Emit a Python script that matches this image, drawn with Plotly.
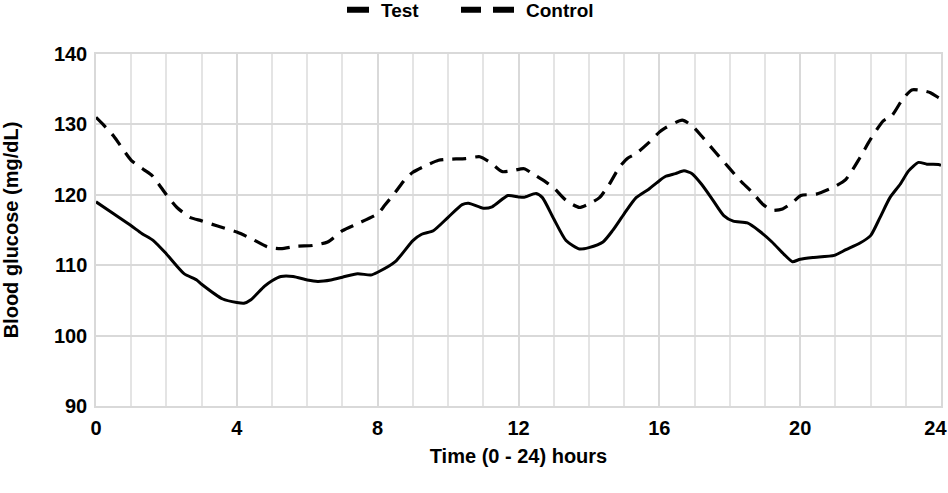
import plotly.graph_objects as go

# Test (solid) series: hour, blood glucose (mg/dL)
test_hours = [0, 0.5, 1, 1.3, 1.63, 2, 2.5, 2.86, 3, 3.6, 4, 4.2, 4.4, 4.78, 5, 5.25, 5.6, 6, 6.3, 6.67,
              7, 7.43, 7.8, 8, 8.5, 9, 9.25, 9.58, 10, 10.4, 10.58, 11, 11.25, 11.7, 12, 12.16, 12.5, 12.68,
              13, 13.35, 13.73, 14, 14.4, 14.67, 15, 15.34, 15.7, 16, 16.17, 16.46, 16.7, 16.93, 17.2, 17.5,
              17.83, 18.1, 18.5, 18.83, 19.2, 19.54, 19.78, 20.0, 20.36, 20.97, 21.3, 21.7, 22, 22.27, 22.55,
              22.84, 23.08, 23.36, 23.6, 23.93, 24]
test_values = [119.0, 117.3, 115.6, 114.5, 113.5, 111.6, 108.8, 107.9, 107.3, 105.2, 104.7, 104.6, 105.1,
               107.0, 107.8, 108.4, 108.4, 107.9, 107.7, 107.9, 108.3, 108.8, 108.6, 109.0, 110.5, 113.5,
               114.4, 114.9, 116.8, 118.6, 118.8, 118.1, 118.3, 119.9, 119.7, 119.65, 120.2, 119.6, 116.6,
               113.5, 112.3, 112.5, 113.3, 114.9, 117.3, 119.6, 120.8, 122.0, 122.6, 123.0, 123.4, 123.0,
               121.5, 119.4, 117.05, 116.25, 116.0, 114.9, 113.3, 111.55, 110.5, 110.85, 111.1, 111.4,
               112.2, 113.15, 114.2, 116.8, 119.6, 121.5, 123.4, 124.6, 124.35, 124.3, 124.2]

# Control (dashed) series
control_hours = [0, 0.2, 0.5, 1, 1.35, 1.6, 2, 2.3, 2.67, 3, 3.43, 4, 4.4, 4.87, 5.25, 5.72, 6.15, 6.58,
                 7, 7.43, 8, 8.2, 8.5, 8.78, 9, 9.35, 9.73, 10, 10.5, 10.9, 11.2, 11.53, 11.8, 12.16, 12.4,
                 12.78, 13, 13.35, 13.73, 14, 14.3, 14.58, 14.86, 15.1, 15.34, 15.7, 16, 16.17, 16.65,
                 16.93, 17.2, 17.6, 17.97, 18.3, 18.64, 18.93, 19.2, 19.5, 19.78, 20.02, 20.46, 20.97,
                 21.3, 21.7, 22, 22.36, 22.6, 22.9, 23.17, 23.46, 23.7, 23.93, 24]
control_values = [131.0, 130.0, 128.35, 124.9, 123.6, 122.7, 120.0, 118.2, 116.8, 116.3, 115.6, 114.7,
                  113.8, 112.6, 112.35, 112.7, 112.8, 113.3, 114.9, 115.9, 117.3, 118.5, 120.35, 122.2,
                  123.2, 124.1, 124.9, 125.05, 125.15, 125.4, 124.6, 123.3, 123.4, 123.7, 123.0, 121.8,
                  121.0, 119.2, 118.2, 118.7, 119.6, 121.5, 123.9, 125.2, 125.85, 127.4, 128.9, 129.5,
                  130.6, 129.8, 128.35, 126.0, 123.9, 122.0, 120.35, 118.7, 117.8, 118.0, 118.9, 119.9,
                  120.1, 121.15, 122.2, 125.3, 127.9, 130.5, 131.2, 133.5, 134.9, 134.8, 134.5, 133.8,
                  133.6]

series_names = ["Test", "Control"]
x_tick_values = [0, 4, 8, 12, 16, 20, 24]
x_tick_labels = ["0", "4", "8", "12", "16", "20", "24\u00a0\u00a0"]
y_tick_values = [90, 100, 110, 120, 130, 140]

FONT = "Liberation Sans, Arial, sans-serif"
GRID = "#d9d9d9"

fig = go.Figure()
fig.add_trace(go.Scatter(x=test_hours, y=test_values, mode="lines", name=series_names[0],
                         line=dict(color="black", width=3, shape="spline", smoothing=0.6),
                         showlegend=False))
fig.add_trace(go.Scatter(x=control_hours, y=control_values, mode="lines", name=series_names[1],
                         line=dict(color="black", width=3.2, dash="14px,9px", shape="spline", smoothing=0.6),
                         showlegend=False))
# legend entries
fig.add_trace(go.Scatter(x=[None], y=[None], mode="lines", name=series_names[0],
                         line=dict(color="black", width=6, dash="0px,31px,22px,200px")))
fig.add_trace(go.Scatter(x=[None], y=[None], mode="lines", name=series_names[1],
                         line=dict(color="black", width=6, dash="20px,12px,21px,200px")))

fig.update_layout(
    width=948, height=493, autosize=False,
    margin=dict(l=96, r=7, t=54, b=87),
    paper_bgcolor="white", plot_bgcolor="white",
    font=dict(family=FONT, size=20, color="black", weight="bold"),
    legend=dict(orientation="h", xref="container", yref="container", x=311 / 948, y=1 - 10 / 493,
                xanchor="left", yanchor="middle", font=dict(size=19, weight="bold"),
                itemwidth=60, entrywidth=70, entrywidthmode="pixels", tracegroupgap=0),
    xaxis=dict(range=[0, 24], tickvals=x_tick_values, ticktext=x_tick_labels,
               showgrid=True, gridcolor=GRID, gridwidth=1.5,
               minor=dict(dtick=1, tick0=0, showgrid=True, gridcolor="#e4e4e4", gridwidth=1.5),
               showline=True, linecolor=GRID, linewidth=1.5, mirror=True, zeroline=False,
               ticks="", ticklabelstandoff=3, ticklabeloverflow="allow", automargin=False,
               title=dict(text="Time (0 - 24) hours", standoff=11, font=dict(size=20, weight="bold"))),
    yaxis=dict(range=[90, 140], tickvals=y_tick_values, showgrid=True, gridcolor=GRID, gridwidth=1.5,
               showline=True, linecolor=GRID, linewidth=1.5, mirror=True, zeroline=False,
               ticks="", ticklabelstandoff=3, automargin=False,
               title=dict(text="Blood glucose (mg/dL)", standoff=30, font=dict(size=20, weight="bold"))),
)

fig.write_html("out.html", config={"displayModeBar": False},
               post_script="document.body.style.margin='0';document.body.style.padding='0';")
